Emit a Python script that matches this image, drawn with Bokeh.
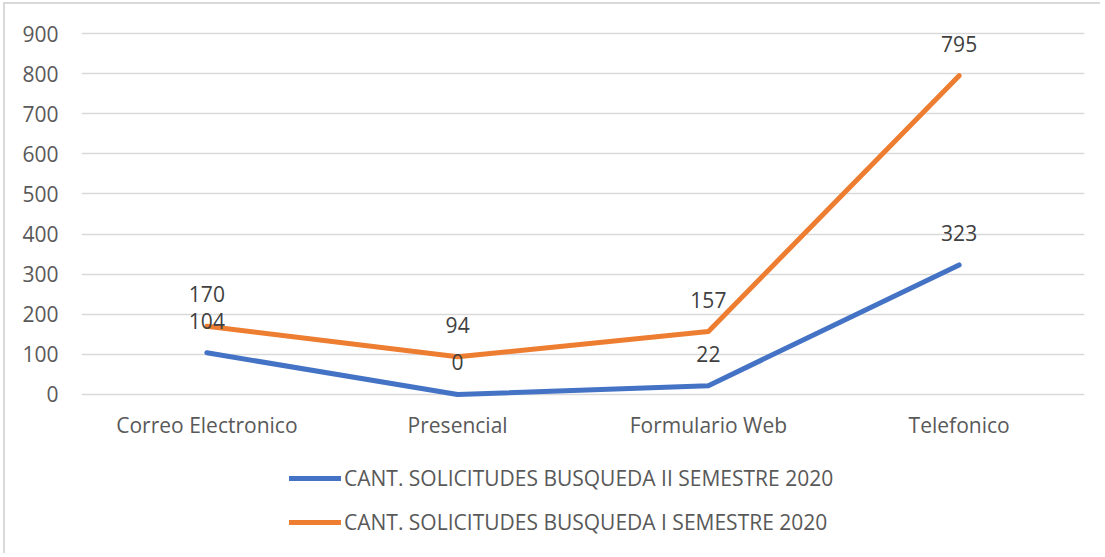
from bokeh.plotting import figure
from bokeh.models import FactorRange, Range1d, Legend, LegendItem, FixedTicker
from bokeh.core.properties import value
from bokeh.embed import file_html
from bokeh.resources import INLINE

categories = ["Correo Electronico", "Presencial", "Formulario Web", "Telefonico"]
serie_ii = [104, 0, 22, 323]
serie_i = [170, 94, 157, 795]
name_ii = "CANT. SOLICITUDES BUSQUEDA II SEMESTRE 2020"
name_i = "CANT. SOLICITUDES BUSQUEDA I SEMESTRE 2020"
y_ticks = [0, 100, 200, 300, 400, 500, 600, 700, 800, 900]

FONT = "Open Sans"
FS = "21px"
BLUE = "#4472C4"
ORANGE = "#ED7D31"

p = figure(
    x_range=FactorRange(*categories, range_padding=0),
    y_range=Range1d(-396.5, 920),
    frame_width=1003, frame_height=528,
    min_border_left=76, min_border_right=16, min_border_top=21, min_border_bottom=0,
    output_backend="svg", toolbar_location=None,
)
p.styles = {"margin-left": "3px", "margin-top": "2px",
            "border-left": "2px solid #D9D9D9", "border-top": "2px solid #D9D9D9"}
p.outline_line_color = None
p.background_fill_color = "white"
p.border_fill_color = "white"

# axes
p.xaxis.visible = False
p.yaxis.ticker = FixedTicker(ticks=y_ticks)
ax = p.yaxis[0]
ax.axis_line_color = None
ax.major_tick_line_color = None
ax.minor_tick_line_color = None
ax.major_tick_out = 0
ax.major_tick_in = 0
ax.major_label_text_font = FONT
ax.major_label_text_font_size = FS
ax.major_label_text_color = "#595959"
ax.major_label_standoff = 23

p.xgrid.grid_line_color = None
p.ygrid.ticker = FixedTicker(ticks=y_ticks)
p.ygrid.grid_line_color = "#D9D9D9"
p.ygrid.grid_line_width = 1.5

# category labels under the 0 line
p.text(categories, [0] * len(categories), text=categories, y_offset=31,
       text_align="center", text_baseline="middle",
       text_font=value(FONT), text_font_size=value(FS), text_color="#595959")

r_ii = p.line(categories, serie_ii, line_color=BLUE, line_width=5,
              line_cap="round", line_join="round")
r_i = p.line(categories, serie_i, line_color=ORANGE, line_width=5,
             line_cap="round", line_join="round")

for vals in (serie_ii, serie_i):
    p.text(categories, vals, text=[str(v) for v in vals], y_offset=-32,
           text_align="center", text_baseline="middle",
           text_font=value(FONT), text_font_size=value(FS), text_color="#404040")

legend = Legend(
    items=[LegendItem(label=name_ii, renderers=[r_ii]),
           LegendItem(label=name_i, renderers=[r_i])],
    location=(208, 17), orientation="vertical",
    glyph_width=52, glyph_height=28, label_height=28, spacing=16,
    label_standoff=3, padding=0, margin=0,
    border_line_color=None, background_fill_alpha=0,
    label_text_font=FONT, label_text_font_size=FS, label_text_color="#595959",
    label_text_baseline="middle",
)
p.add_layout(legend, "center")

open("out.html", "w").write(file_html(p, INLINE))
